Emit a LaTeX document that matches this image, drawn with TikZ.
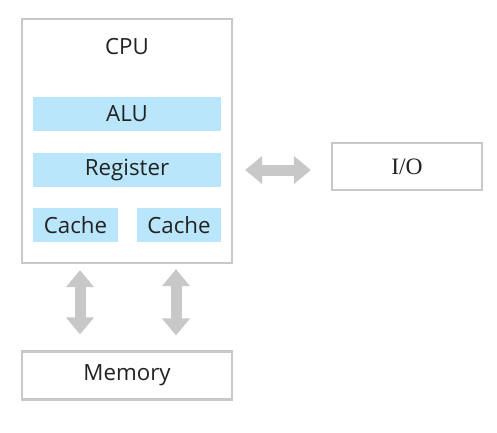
\documentclass[tikz,border=0pt]{standalone}
\usepackage{fontspec}
\setmainfont{Open Sans}
\newfontfamily\serifio{Liberation Serif}
\usetikzlibrary{arrows.meta}
\definecolor{boxgray}{HTML}{C8C8C8}
\definecolor{unitblue}{HTML}{B9E6FB}
\definecolor{txt}{HTML}{222222}
\tikzset{
  outerbox/.style={draw=boxgray, line width=2.2pt, fill=white, inner sep=0pt},
  unitbox/.style={fill=unitblue, inner sep=0pt, text=txt, font=\fontsize{22.3}{26}\selectfont},
  lbl/.style={text=txt, font=\fontsize{22.3}{26}\selectfont},
  fatarrow/.style={draw=boxgray, line width=11pt,
    {Triangle[length=17pt,width=27pt]}-{Triangle[length=17pt,width=27pt]}}
}
\begin{document}
\begin{tikzpicture}[x=1pt,y=-1pt]
\useasboundingbox (0,0) rectangle (497,432);
% CPU
\node[outerbox, minimum width=210pt, minimum height=244pt] (cpu) at (127,141) {};
\node[lbl] (cputxt) at (127,46.5) {CPU};
\node[unitbox, minimum width=188pt, minimum height=34pt] (alu) at (127,114) {ALU};
\node[unitbox, minimum width=188pt, minimum height=34pt] (reg) at (127,170) {Register};
\node[unitbox, minimum width=85pt, minimum height=34pt] (cache1) at (75.5,225) {Cache};
\node[unitbox, minimum width=84pt, minimum height=34pt] (cache2) at (179,225) {Cache};
% I/O
\node[outerbox, minimum width=150pt, minimum height=47pt, text=txt,
      font=\serifio\fontsize{23.5}{27}\selectfont] (io) at (407,166.5) {I/O};
% Memory
\node[outerbox, minimum width=210pt, minimum height=48pt, text=txt,
      font=\fontsize{22.3}{26}\selectfont] (mem) at (127,375.5) {Memory};
% connector anchors
\coordinate (l1) at (80,0);
\coordinate (l2) at (176,0);
\coordinate (hy) at (0,170);
\draw[fatarrow, shorten <=12pt, shorten >=20pt] (cpu.east |- hy) -- (io.west |- hy);
\draw[fatarrow, shorten <=6pt, shorten >=16pt] (cpu.south -| l1) -- (mem.north -| l1);
\draw[fatarrow, shorten <=5pt, shorten >=15pt] (cpu.south -| l2) -- (mem.north -| l2);
\end{tikzpicture}
\end{document}
